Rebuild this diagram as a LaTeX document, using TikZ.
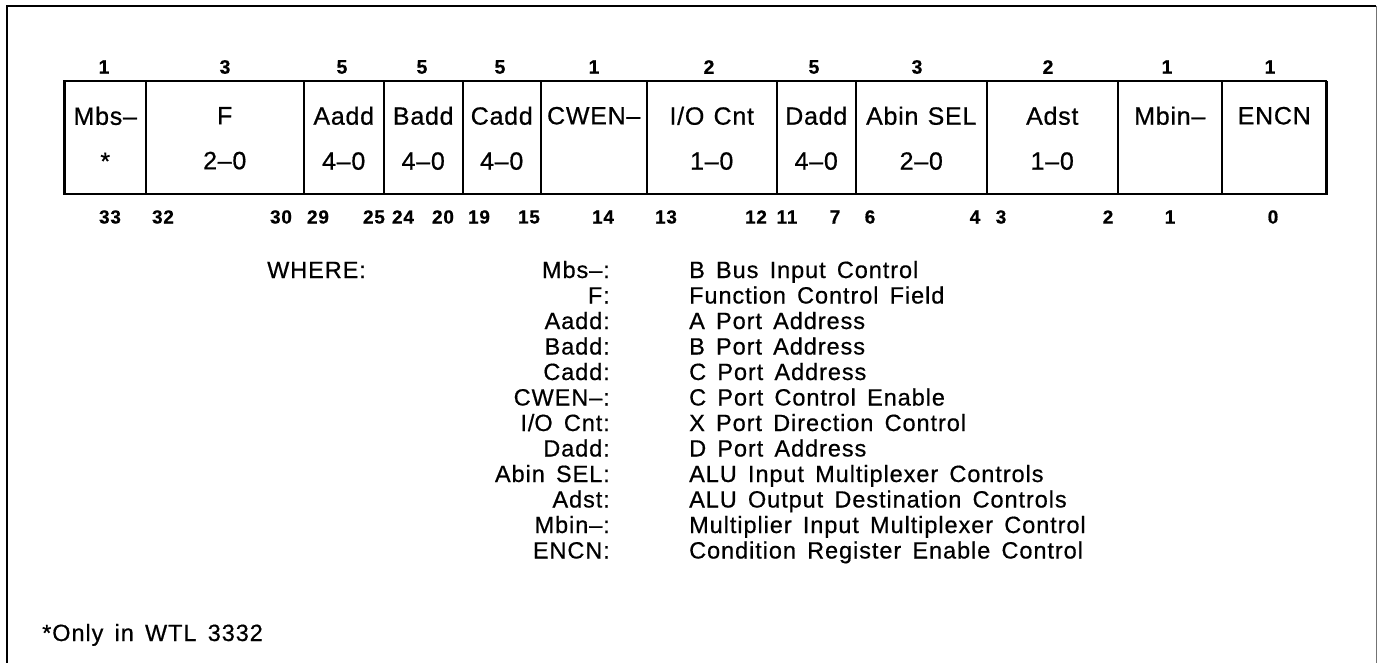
\documentclass[tikz,border=0pt]{standalone}
\usepackage{fontspec}
\setmainfont{Liberation Sans}[LetterSpace=4,WordSpace=1.5,FakeBold=0.6]
\newfontfamily\fldfont{Liberation Sans}[LetterSpace=3,WordSpace=1.2,FakeBold=0.6]
\begin{document}
\begin{tikzpicture}[x=1pt,y=-1pt,
  field/.style={draw,line width=1.5pt,anchor=north west,minimum height=113pt,inner sep=0pt,align=center,
    font=\fldfont\fontsize{25}{45}\selectfont},
  hdr/.style={font=\fontsize{19.5}{20}\bfseries\selectfont,inner sep=0pt},
  bit/.style={font=\fontsize{19}{20}\bfseries\selectfont,inner sep=0pt},
  lgl/.style={font=\fontsize{23.5}{25}\selectfont,anchor=base east,inner sep=0pt},
  lgd/.style={font=\fontsize{23.5}{25}\selectfont,anchor=base west,inner sep=0pt}]
\useasboundingbox (0,0) rectangle (1381,663);
% frame
\draw[line width=2.6pt] (7,663) -- (7,6) -- (1376,6);
\draw[line width=1pt,black!55] (1376,6) -- (1376,663);
% fields
\node[field,minimum width=81pt] (fmbs) at (64,81) {Mbs–\\*};
\node[field,minimum width=158pt] (ff) at (145,81) {F\\2–0};
\node[field,minimum width=80pt] (faadd) at (303,81) {Aadd\\4–0};
\node[field,minimum width=79pt] (fbadd) at (383,81) {Badd\\4–0};
\node[field,minimum width=78pt] (fcadd) at (462,81) {Cadd\\4–0};
\node[field,minimum width=106pt] (fcwen) at (540,81) {CWEN–\\\phantom{1–0}};
\node[field,minimum width=130pt] (fio) at (646,81) {I/O Cnt\\1–0};
\node[field,minimum width=79pt] (fdadd) at (776,81) {Dadd\\4–0};
\node[field,minimum width=131pt] (fabin) at (855,81) {Abin SEL\\2–0};
\node[field,minimum width=131pt] (fadst) at (986,81) {Adst\\1–0};
\node[field,minimum width=104pt] (fmbin) at (1117,81) {Mbin–\\\phantom{1–0}};
\node[field,minimum width=105pt] (fencn) at (1221,81) {ENCN\\\phantom{1–0}};
\draw[line width=2.6pt] (64,81) rectangle (1326,194);
% header widths
\node[hdr] (h1) at (104,67) {1};
\node[hdr] (h2) at (225,67) {3};
\node[hdr] (h3) at (342,67) {5};
\node[hdr] (h4) at (422,67) {5};
\node[hdr] (h5) at (500,67) {5};
\node[hdr] (h6) at (594,67) {1};
\node[hdr] (h7) at (709,67) {2};
\node[hdr] (h8) at (814,67) {5};
\node[hdr] (h9) at (917,67) {3};
\node[hdr] (h10) at (1048,67) {2};
\node[hdr] (h11) at (1167,67) {1};
\node[hdr] (h12) at (1270,67) {1};
% bit numbers
\node[bit] (b33) at (110,217) {33};
\node[bit] (b32) at (163,217) {32};
\node[bit] (b30) at (281,217) {30};
\node[bit] (b29) at (318,217) {29};
\node[bit] (b25) at (374,217) {25};
\node[bit] (b24) at (403,217) {24};
\node[bit] (b20) at (443,217) {20};
\node[bit] (b19) at (479,217) {19};
\node[bit] (b15) at (529,217) {15};
\node[bit] (b14) at (603,217) {14};
\node[bit] (b13) at (666,217) {13};
\node[bit] (b12) at (756,217) {12};
\node[bit] (b11) at (787,217) {11};
\node[bit] (b7) at (835,217) {7};
\node[bit] (b6) at (870,217) {6};
\node[bit] (b4) at (975,217) {4};
\node[bit] (b3) at (1001,217) {3};
\node[bit] (b2) at (1108,217) {2};
\node[bit] (b1) at (1170,217) {1};
\node[bit] (b0) at (1273,217) {0};
% legend
\node[lgd] (where) at (267,278) {WHERE:};
\foreach \i/\l/\d in {0/Mbs–:/B Bus Input Control,
  1/F:/Function Control Field,
  2/Aadd:/A Port Address,
  3/Badd:/B Port Address,
  4/Cadd:/C Port Address,
  5/CWEN–:/C Port Control Enable,
  6/I\slash O Cnt:/X Port Direction Control,
  7/Dadd:/D Port Address,
  8/Abin SEL:/ALU Input Multiplexer Controls,
  9/Adst:/ALU Output Destination Controls,
  10/Mbin–:/Multiplier Input Multiplexer Control,
  11/ENCN:/Condition Register Enable Control}{
  \node[lgl] (l\i) at (610,278+25.5*\i) {\l};
  \node[lgd] (d\i) at (689,278+25.5*\i) {\d};
}
\node[lgd] (foot) at (42,641) {*Only in WTL 3332};
\end{tikzpicture}
\end{document}
